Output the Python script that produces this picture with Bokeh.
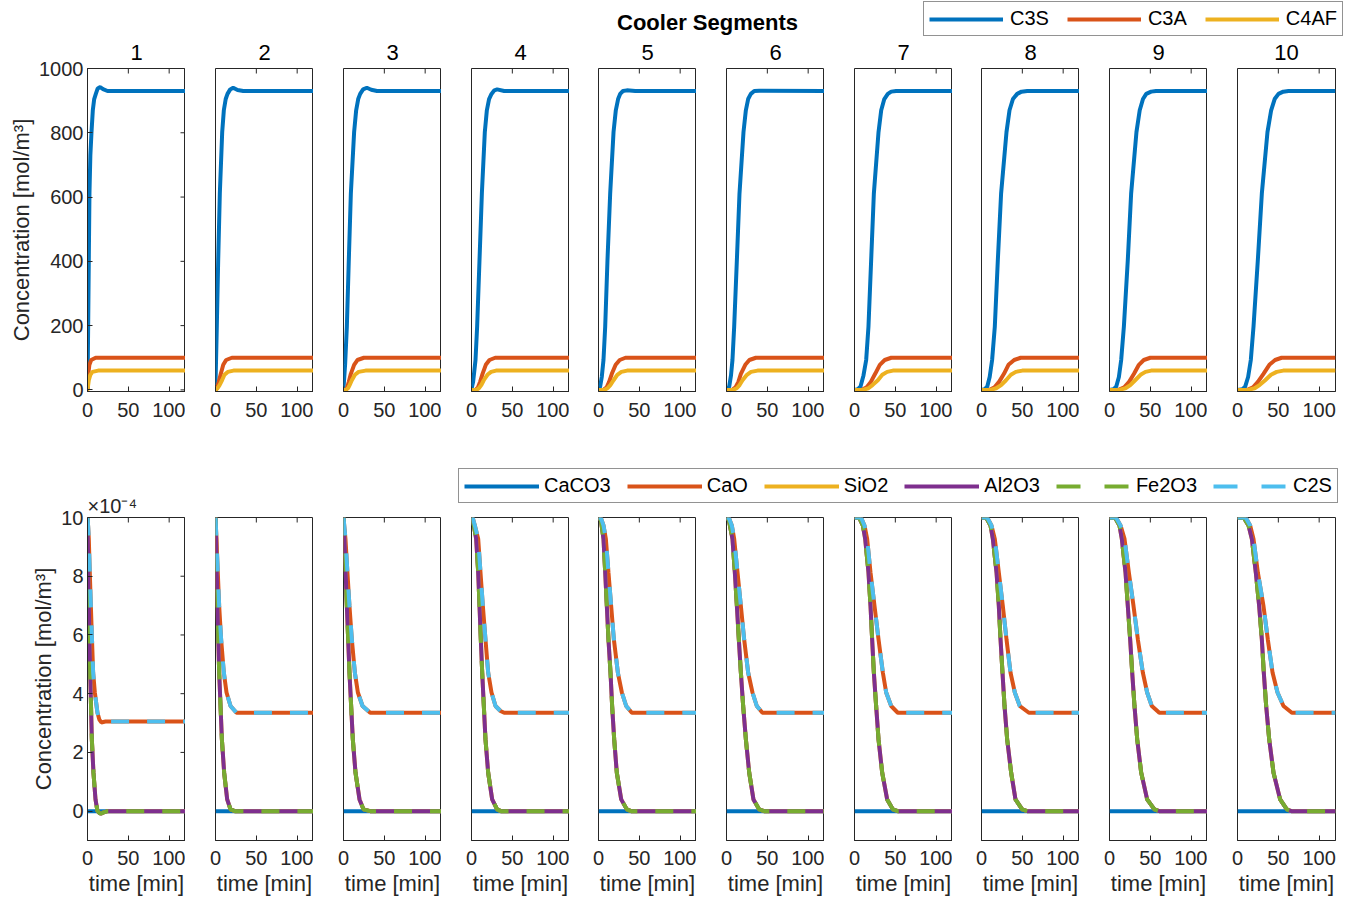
from bokeh.plotting import figure
from bokeh.models import LinearAxis, FixedTicker, Range1d, Legend, LegendItem, Label
from bokeh.layouts import row, column
from bokeh.core.properties import value
from bokeh.embed import file_html
from bokeh.resources import INLINE

# ---------------- data ----------------
segments = ["1", "2", "3", "4", "5", "6", "7", "8", "9", "10"]
x_ticks = [0, 50, 100]
x_limits = (0, 120)
top_y_limits = (-5, 1000)
bot_y_limits = (-1, 10)                    # in units of 1e-4 mol/m3
top_y_ticks = [0, 200, 400, 600, 800, 1000]
bot_y_ticks = [0, 2, 4, 6, 8, 10]

# top row: C3S per segment (time [min], concentration [mol/m3])
c3s_t = [
    [0, 0.8, 1.6, 2.4, 3.5, 4.9, 6.5, 8.2, 10.2, 12.5, 15.5, 19, 24.5, 120],
    [0, 1.6, 3.3, 5.3, 8.2, 10.2, 12.5, 14.7, 18, 21.6, 27, 34, 120],
    [0, 2, 4.1, 6.5, 9, 13, 15.5, 18, 20.4, 24, 28.6, 34, 41, 120],
    [0, 2, 4.9, 6.9, 9.8, 12.7, 16.3, 18.8, 21.5, 24.5, 28, 31.4, 40, 120],
    [0, 2, 4, 6.1, 8.2, 11, 14.3, 18.4, 21.2, 24, 26.5, 30, 34.7, 45, 120],
    [0, 3.3, 5.5, 7.3, 9.4, 12.7, 15.9, 20.8, 23.7, 26.5, 29.8, 34, 40, 120],
    [0, 4, 7.3, 11, 14.3, 17.1, 20.4, 23.7, 29.4, 32.7, 36.5, 40.8, 45, 51, 120],
    [0, 4, 7, 10, 13, 16.3, 20, 24, 30.6, 34.3, 38.5, 43.7, 49, 56, 120],
    [0, 5, 8.2, 11.5, 14.3, 17.6, 22.4, 26.5, 33, 37, 41, 45, 51, 57, 120],
    [0, 6, 9.4, 13, 16.3, 19.6, 24.9, 29.8, 36.7, 41.2, 45.5, 50.2, 56, 62.4, 120],
]
c3s_v = [
    [0, 197, 404, 611, 730, 802, 870, 905, 921, 938, 942, 936, 930, 930],
    [15, 197, 404, 611, 802, 870, 905, 921, 935, 940, 933, 930, 930],
    [5, 80, 197, 404, 611, 802, 870, 905, 921, 935, 940, 934, 930, 930],
    [3, 25, 93, 197, 404, 611, 802, 870, 905, 921, 932, 935, 930, 930],
    [0, 10, 40, 93, 197, 404, 611, 802, 870, 905, 921, 930, 932, 930, 930],
    [0, 10, 45, 93, 197, 404, 611, 802, 870, 905, 921, 930, 931, 930],
    [0, 2, 10, 45, 93, 197, 404, 611, 802, 870, 905, 921, 928, 930, 930],
    [0, 2, 10, 40, 93, 197, 404, 611, 802, 870, 905, 921, 928, 930, 930],
    [0, 2, 10, 40, 93, 197, 404, 611, 802, 870, 905, 921, 928, 930, 930],
    [0, 2, 10, 40, 93, 197, 404, 611, 802, 870, 905, 921, 928, 930, 930],
]
# C3A: concentration levels and the times at which each segment reaches them
c3a_v = [0, 0, 8, 25, 50, 78, 93, 100, 100]
c3a_t = [
    [0, 0.01, 0.2, 0.5, 1.0, 2.3, 4.5, 10, 120],
    [0, 0.5, 2.0, 4.0, 6.5, 9.5, 13, 20, 120],
    [0, 2.5, 4.5, 6.5, 9.0, 13, 17, 25, 120],
    [0, 5, 8, 10.5, 13.5, 17.5, 22, 29, 120],
    [0, 6, 10, 13, 16.3, 21, 26, 33, 120],
    [0, 7, 11, 14.5, 17.6, 23, 28, 36, 120],
    [0, 9, 15, 20, 25.3, 31, 37, 45, 120],
    [0, 10, 16, 21.5, 27.5, 33, 40, 48, 120],
    [0, 11, 18, 24, 30, 36, 42, 50, 120],
    [0, 12, 19, 25, 31.8, 39, 46, 54, 120],
]
# C4AF
c4af_v = [0, 0, 5, 15, 30, 47, 56, 60, 60]
c4af_t = [
    [0, 0.01, 0.3, 0.8, 1.6, 3.5, 6, 13, 120],
    [0, 0.5, 2.5, 5, 8, 11, 15, 22, 120],
    [0, 3, 5.5, 7.5, 10.2, 14, 18.5, 27, 120],
    [0, 6, 9, 12, 15, 19.5, 24, 30, 120],
    [0, 7, 11, 14.5, 18.4, 23, 28, 35, 120],
    [0, 8, 12.5, 16, 19.6, 25, 30, 38, 120],
    [0, 10, 17, 22, 28.6, 34, 40, 47, 120],
    [0, 11, 18, 24, 30, 36, 42, 50, 120],
    [0, 12, 19.5, 25.5, 31.4, 38, 44, 51, 120],
    [0, 13, 21, 27, 33.9, 41, 48, 56, 120],
]

# bottom row (values in 1e-4 mol/m3)
caco3_t = [0, 120]
caco3_v = [0, 0]
cao_t = [
    [0, 0.8, 1.6, 2.8, 4.1, 5.5, 6.9, 9, 12.2, 14.5, 17, 22, 120],
    [0, 1.2, 2.8, 4.5, 6.9, 10.2, 13.5, 18.4, 25.7, 120],
    [0, 2.4, 4.8, 7.3, 10.2, 13.9, 17.6, 23.3, 32.7, 120],
    [0, 1.6, 4.1, 8.2, 11, 13.9, 17.1, 20.4, 24.5, 29.4, 35.5, 40, 120],
    [0, 3, 6.1, 9, 12.2, 15.5, 18.8, 23.7, 28.6, 33.9, 40.8, 120],
    [0, 3, 6.5, 9.4, 13.5, 17.6, 21.6, 26.5, 31.8, 37.1, 44, 120],
    [0, 8, 12.2, 15.5, 19.6, 24.5, 29.4, 34.7, 38.8, 44.9, 53, 120],
    [0, 7, 12.2, 16.3, 21.2, 26.1, 30.6, 35.5, 40.8, 46.9, 58, 120],
    [0, 8, 13.5, 18.4, 23.7, 29.4, 34.7, 40.8, 46.1, 51.8, 61, 120],
    [0, 10, 15.5, 19.6, 24.9, 31.8, 37.1, 42.9, 49, 56.3, 66.5, 120],
]
cao_v = [
    [10, 9.7, 9.27, 8.13, 6.99, 5.85, 4.72, 4.04, 3.35, 3.12, 3.02, 3.05, 3.05],
    [10, 9.27, 8.13, 6.99, 5.85, 4.72, 4.04, 3.58, 3.35, 3.35],
    [10, 9.27, 8.13, 6.99, 5.85, 4.72, 4.04, 3.58, 3.35, 3.35],
    [10, 9.98, 9.73, 9.27, 8.13, 6.99, 5.85, 4.72, 4.04, 3.58, 3.41, 3.35, 3.35],
    [10, 9.98, 9.73, 9.27, 8.13, 6.99, 5.85, 4.72, 4.04, 3.58, 3.35, 3.35],
    [10, 9.98, 9.73, 9.27, 8.13, 6.99, 5.85, 4.72, 4.04, 3.58, 3.35, 3.35],
    [10, 10, 9.73, 9.27, 8.13, 6.99, 5.85, 4.72, 4.04, 3.58, 3.35, 3.35],
    [10, 10, 9.73, 9.27, 8.13, 6.99, 5.85, 4.72, 4.04, 3.58, 3.35, 3.35],
    [10, 10, 9.73, 9.27, 8.13, 6.99, 5.85, 4.72, 4.04, 3.58, 3.35, 3.35],
    [10, 10, 9.73, 9.27, 8.13, 6.99, 5.85, 4.72, 4.04, 3.58, 3.35, 3.35],
]
al2o3_t = [
    [0, 0.4, 1.6, 3.3, 5.3, 7.3, 9.8, 12.2, 15, 17, 20, 24.5, 120],
    [0, 0.8, 2.4, 4.5, 7.8, 10.6, 14.3, 18.4, 23.7, 120],
    [0, 1.2, 4.1, 7.3, 11.4, 14.7, 19.6, 24.5, 32.7, 120],
    [0, 2.9, 5.7, 8.2, 9.8, 11.4, 13.1, 15.1, 17.1, 20.4, 25.3, 31.4, 36, 120],
    [0, 3, 6.1, 8.2, 10.2, 12.2, 14.7, 16.7, 19.2, 22.4, 27.8, 34.7, 40, 120],
    [0, 3, 7.3, 10.2, 12.7, 15.1, 17.6, 20.4, 23.7, 27.8, 33, 40, 46, 120],
    [0, 6, 10.2, 13.1, 17.1, 19.6, 21.6, 23.7, 26.5, 29.4, 33.9, 40, 47, 53, 120],
    [0, 6, 11, 13.9, 18.4, 21.2, 23.3, 25.7, 28.2, 31.4, 36.3, 41.6, 49.8, 56, 120],
    [0, 7, 12.2, 15.1, 19.6, 22.4, 25.3, 27.8, 30.6, 33.9, 38.8, 46.1, 55, 61, 120],
    [0, 8, 13.5, 17.6, 22.4, 26.5, 29.8, 32.2, 35.1, 38.8, 44.1, 52.2, 60.4, 66, 120],
]
al2o3_v = [
    [10, 9.27, 6.99, 4.72, 2.45, 1.31, 0.40, 0.0, -0.07, -0.08, -0.04, 0, 0],
    [10, 9.27, 6.99, 4.72, 2.45, 1.31, 0.40, 0.06, 0, 0],
    [10, 9.27, 6.99, 4.72, 2.45, 1.31, 0.40, 0.06, 0, 0],
    [10, 9.73, 9.27, 8.13, 6.99, 5.85, 4.72, 3.58, 2.45, 1.31, 0.40, 0.06, 0, 0],
    [10, 9.9, 9.27, 8.13, 6.99, 5.85, 4.72, 3.58, 2.45, 1.31, 0.40, 0.06, 0, 0],
    [10, 9.9, 9.27, 8.13, 6.99, 5.85, 4.72, 3.58, 2.45, 1.31, 0.40, 0.06, 0, 0],
    [10, 9.98, 9.73, 9.27, 8.13, 6.99, 5.85, 4.72, 3.58, 2.45, 1.31, 0.40, 0.06, 0, 0],
    [10, 9.98, 9.73, 9.27, 8.13, 6.99, 5.85, 4.72, 3.58, 2.45, 1.31, 0.40, 0.06, 0, 0],
    [10, 9.98, 9.73, 9.27, 8.13, 6.99, 5.85, 4.72, 3.58, 2.45, 1.31, 0.40, 0.06, 0, 0],
    [10, 9.98, 9.73, 9.27, 8.13, 6.99, 5.85, 4.72, 3.58, 2.45, 1.31, 0.40, 0.06, 0, 0],
]
# these coincide on the picture
sio2_t, sio2_v = al2o3_t, al2o3_v
fe2o3_t, fe2o3_v = al2o3_t, al2o3_v
c2s_t, c2s_v = cao_t, cao_v

# ---------------- style ----------------
FONT = "Liberation Sans"
TXT = "#262626"
AX = "#262626"
BLUE, ORANGE, YELLOW = "#0072BD", "#D95319", "#EDB120"
PURPLE, GREEN, CYAN = "#7E2F8E", "#77AC30", "#4DBEEE"
LW = 4
DASH = "18 18"
NAN = [float("nan")]          # legend proxies draw nothing in the plot area

W = 1354
FRAME_LEFTS = [87, 215, 343, 471, 598, 726, 854, 981, 1109, 1237]
FRAME_W, FRAME_H = 98, 323
H1, TOP_BT, TOP_BB = 36, 32, 49
H2 = 65
BOT_BT_LEFT, BOT_BT, BOT_BB = 77, 12, 61
TICK = 5


def style_axis(ax, ticks):
    ax.ticker = FixedTicker(ticks=ticks)
    ax.minor_tick_line_color = None
    ax.major_tick_in = TICK
    ax.major_tick_out = 0
    ax.axis_line_color = AX
    ax.axis_line_width = 1
    ax.major_tick_line_color = AX
    ax.major_label_text_font = FONT
    ax.major_label_text_color = TXT
    ax.major_label_text_font_size = "20px"
    ax.axis_label_text_font = FONT
    ax.axis_label_text_font_style = "normal"
    ax.axis_label_text_font_size = "22px"
    ax.axis_label_text_color = TXT


def style_title(t, text, size, align, standoff, color, valign="bottom"):
    t.text = text
    t.align = align
    t.vertical_align = valign
    t.text_font = FONT
    t.text_font_size = size
    t.text_font_style = "normal"
    t.text_color = color
    t.standoff = standoff


def make_panel(k, top):
    lb = FRAME_LEFTS[0] if k == 0 else FRAME_LEFTS[k] - FRAME_LEFTS[k - 1] - FRAME_W
    rb = W - FRAME_LEFTS[-1] - FRAME_W if k == 9 else 0
    if top:
        ylim, bt, bb, yt = top_y_limits, TOP_BT, TOP_BB, top_y_ticks
    else:
        ylim, bb, yt = bot_y_limits, BOT_BB, bot_y_ticks
        bt = BOT_BT_LEFT if k < 3 else BOT_BT
    p = figure(frame_width=FRAME_W, frame_height=FRAME_H,
               x_range=Range1d(*x_limits), y_range=Range1d(*ylim),
               x_axis_type=None, y_axis_type=None,
               output_backend="svg", toolbar_location=None,
               min_border_left=lb, min_border_right=rb,
               min_border_top=bt, min_border_bottom=bb)
    p.outline_line_color = AX
    p.outline_line_width = 1
    p.background_fill_color = "white"
    p.border_fill_color = "white"

    xb = LinearAxis()
    style_axis(xb, x_ticks)
    if top:
        xb.major_label_standoff = 11
    else:
        xb.major_label_standoff = 10
        xb.axis_label = "time [min]"
        xb.axis_label_standoff = 3
    p.add_layout(xb, "below")

    # inward tick marks on the top edge
    p.ray(x=x_ticks, y=[ylim[1]] * len(x_ticks), length=TICK, length_units="screen",
          angle=-90, angle_units="deg", line_color=AX, line_width=1)

    if k == 0:
        yl = LinearAxis(axis_label="Concentration [mol/m³]")
        style_axis(yl, yt)
        yl.major_label_standoff = 4
        yl.axis_label_standoff = 2
        p.add_layout(yl, "left")
        # inward tick marks on the right edge
        p.ray(x=[x_limits[1]] * len(yt), y=yt, length=TICK, length_units="screen",
              angle=180, angle_units="deg", line_color=AX, line_width=1)

    if top:
        style_title(p.title, segments[k], "22px", "center", 13, "black", "top")
        p.line(c3s_t[k], c3s_v[k], line_color=BLUE, line_width=LW)
        p.line(c3a_t[k], c3a_v, line_color=ORANGE, line_width=LW)
        p.line(c4af_t[k], c4af_v, line_color=YELLOW, line_width=LW)
    else:
        if k == 0:
            style_title(p.title, "×10⁻⁴", "20px", "left", 2, TXT)
        p.line(caco3_t, caco3_v, line_color=BLUE, line_width=LW)
        p.line(cao_t[k], cao_v[k], line_color=ORANGE, line_width=LW)
        p.line(sio2_t[k], sio2_v[k], line_color=YELLOW, line_width=LW)
        p.line(al2o3_t[k], al2o3_v[k], line_color=PURPLE, line_width=LW)
        p.line(fe2o3_t[k], fe2o3_v[k], line_color=GREEN, line_width=LW, line_dash=DASH)
        p.line(c2s_t[k], c2s_v[k], line_color=CYAN, line_width=LW, line_dash=DASH)
    return p


def make_header(w, h):
    f = figure(width=w, height=h, x_range=Range1d(0, w), y_range=Range1d(h, 0),
               x_axis_type=None, y_axis_type=None, output_backend="svg",
               toolbar_location=None, min_border=0)
    f.outline_line_color = None
    f.background_fill_color = "white"
    f.border_fill_color = "white"
    return f


def style_legend(leg):
    leg.orientation = "horizontal"
    leg.border_line_color = AX
    leg.border_line_width = 1
    leg.background_fill_color = "white"
    leg.background_fill_alpha = 1
    leg.label_text_font = FONT
    leg.label_text_font_size = "20px"
    leg.label_text_color = "black"
    leg.glyph_width = 74
    leg.glyph_height = 20
    leg.label_height = 20
    leg.label_standoff = 7
    leg.spacing = 18
    leg.padding = 5
    leg.margin = 0


# header 1: title + legend of top row
h1 = make_header(W, H1)
h1.add_layout(Label(x=707, y=22, text="Cooler Segments", text_align="center",
                    text_baseline="middle", text_font=FONT,
                    text_font_size="22px", text_font_style="bold", text_color="black"))
top_names = ["C3S", "C3A", "C4AF"]
top_cols = [BLUE, ORANGE, YELLOW]
items1 = []
for nm, c in zip(top_names, top_cols):
    r = h1.line(NAN, NAN, line_color=c, line_width=LW)
    items1.append(LegendItem(label=value(nm), renderers=[r]))
leg1 = Legend(items=items1, location=(923, 0))
style_legend(leg1)
h1.add_layout(leg1)

# header 2 (above segments 4-10): legend of bottom row
h2_left = FRAME_LEFTS[2] + FRAME_W
h2 = make_header(W - h2_left, H2)
bot_names = ["CaCO3", "CaO", "SiO2", "Al2O3", "Fe2O3", "C2S"]
bot_cols = [BLUE, ORANGE, YELLOW, PURPLE, GREEN, CYAN]
bot_dash = [None, None, None, None, "24 24", "24 24"]
items2 = []
for nm, c, d in zip(bot_names, bot_cols, bot_dash):
    if d:
        r = h2.line(NAN, NAN, line_color=c, line_width=LW, line_dash=d)
    else:
        r = h2.line(NAN, NAN, line_color=c, line_width=LW)
    items2.append(LegendItem(label=value(nm), renderers=[r]))
leg2 = Legend(items=items2, location=(458 - h2_left, 2))
style_legend(leg2)
leg2.glyph_width = 75
leg2.label_standoff = 5
leg2.spacing = 16
h2.add_layout(leg2)

top_row = row([make_panel(k, True) for k in range(10)], spacing=0)
bots = [make_panel(k, False) for k in range(10)]
bot_section = row(bots[0], bots[1], bots[2],
                  column(h2, row(bots[3:], spacing=0), spacing=0), spacing=0)
layout = column([h1, top_row, bot_section], spacing=0)

open("out.html", "w").write(file_html(layout, INLINE))
